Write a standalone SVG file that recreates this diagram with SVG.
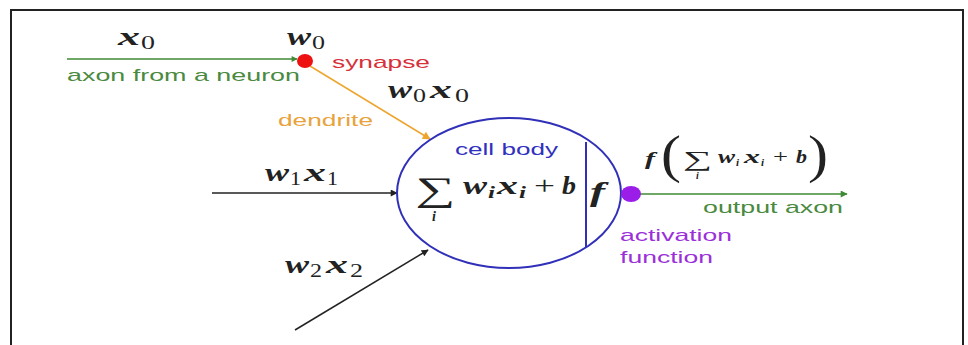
<svg xmlns="http://www.w3.org/2000/svg" width="968" height="345" viewBox="0 0 968 345">
<defs>
<marker id="ag" viewBox="0 0 10 10" refX="9" refY="5" markerWidth="9" markerHeight="6" orient="auto" markerUnits="userSpaceOnUse"><path d="M0,0 L10,5 L0,10 z" fill="#3f8a35"/></marker>
<marker id="ao" viewBox="0 0 10 10" refX="9" refY="5" markerWidth="11" markerHeight="8" orient="auto" markerUnits="userSpaceOnUse"><path d="M0,0 L10,5 L0,10 z" fill="#eea52e"/></marker>
<marker id="ak" viewBox="0 0 10 10" refX="9" refY="5" markerWidth="11" markerHeight="7" orient="auto" markerUnits="userSpaceOnUse"><path d="M0,0 L10,5 L0,10 z" fill="#222"/></marker>
<marker id="ag2" viewBox="0 0 10 10" refX="9" refY="5" markerWidth="13" markerHeight="7" orient="auto" markerUnits="userSpaceOnUse"><path d="M0,0 L10,5 L0,10 z" fill="#3f8a35"/></marker>
</defs>
<style>
.m{font-family:"Liberation Serif","DejaVu Serif",serif;font-style:italic;font-weight:bold;fill:#222}
.s{font-family:"Liberation Serif","DejaVu Serif",serif;fill:#222}
.t{font-family:"Liberation Sans",Arial,sans-serif;font-size:17px}
</style>
<rect x="0" y="0" width="968" height="345" fill="#fff"/>
<path d="M11,350 L11,10 L963,10 L963,350" fill="none" stroke="#222" stroke-width="2"/>
<g id="connectors">
<line x1="67" y1="59" x2="297" y2="59" stroke="#3f8a35" stroke-width="1.5" marker-end="url(#ag)"/>
<line x1="310" y1="66" x2="430" y2="139" stroke="#eea52e" stroke-width="1.5" marker-end="url(#ao)"/>
<line x1="212" y1="193" x2="397" y2="193" stroke="#222" stroke-width="1.5" marker-end="url(#ak)"/>
<line x1="295" y1="330" x2="428" y2="250" stroke="#222" stroke-width="1.5" marker-end="url(#ak)"/>
<line x1="640" y1="194" x2="847" y2="194" stroke="#3f8a35" stroke-width="1.5" marker-end="url(#ag2)"/>
</g>
<g id="input0">
<text class="m" x="118" y="45" font-size="26" textLength="22" lengthAdjust="spacingAndGlyphs">x</text>
<text class="s" x="141" y="49" font-size="18" textLength="14" lengthAdjust="spacingAndGlyphs">0</text>
<text class="t" x="67" y="81" fill="#4a8a40" textLength="233" lengthAdjust="spacingAndGlyphs">axon from a neuron</text>
</g>
<g id="synapse">
<ellipse cx="305" cy="61" rx="8" ry="7" fill="#ee1111"/>
<text class="m" x="287" y="45" font-size="26" textLength="24" lengthAdjust="spacingAndGlyphs">w</text>
<text class="s" x="312" y="49" font-size="18" textLength="13" lengthAdjust="spacingAndGlyphs">0</text>
<text class="t" x="332" y="68" fill="#d8303a" textLength="98" lengthAdjust="spacingAndGlyphs">synapse</text>
<text class="m" x="388" y="98" font-size="26" textLength="24" lengthAdjust="spacingAndGlyphs">w</text>
<text class="s" x="413" y="102" font-size="18" textLength="13" lengthAdjust="spacingAndGlyphs">0</text>
<text class="m" x="430" y="98" font-size="26" textLength="22" lengthAdjust="spacingAndGlyphs">x</text>
<text class="s" x="455" y="102" font-size="18" textLength="14" lengthAdjust="spacingAndGlyphs">0</text>
<text class="t" x="278" y="126" fill="#e8a33c" textLength="95" lengthAdjust="spacingAndGlyphs">dendrite</text>
</g>
<g id="input1">
<text class="m" x="265" y="181" font-size="26" textLength="24" lengthAdjust="spacingAndGlyphs">w</text>
<text class="s" x="290" y="185" font-size="18" textLength="11" lengthAdjust="spacingAndGlyphs">1</text>
<text class="m" x="304" y="181" font-size="26" textLength="22" lengthAdjust="spacingAndGlyphs">x</text>
<text class="s" x="327" y="185" font-size="18" textLength="11" lengthAdjust="spacingAndGlyphs">1</text>
</g>
<g id="input2">
<text class="m" x="285" y="273" font-size="26" textLength="24" lengthAdjust="spacingAndGlyphs">w</text>
<text class="s" x="310" y="277" font-size="18" textLength="12" lengthAdjust="spacingAndGlyphs">2</text>
<text class="m" x="326" y="273" font-size="26" textLength="22" lengthAdjust="spacingAndGlyphs">x</text>
<text class="s" x="350" y="277" font-size="18" textLength="13" lengthAdjust="spacingAndGlyphs">2</text>
</g>
<g id="cell-body">
<ellipse cx="509" cy="193" rx="112" ry="75" fill="none" stroke="#3030b8" stroke-width="2"/>
<line x1="586" y1="142" x2="586" y2="247" stroke="#3030b8" stroke-width="2"/>
<text class="t" x="455" y="155" fill="#3030c0" textLength="103" lengthAdjust="spacingAndGlyphs">cell body</text>
<text class="s" x="415" y="201" font-size="34" textLength="40" lengthAdjust="spacingAndGlyphs">∑</text>
<text class="m" x="432" y="221" font-size="14">i</text>
<text class="m" x="463" y="194" font-size="26" textLength="24" lengthAdjust="spacingAndGlyphs">w</text>
<text class="m" x="488" y="198" font-size="16" textLength="7" lengthAdjust="spacingAndGlyphs">i</text>
<text class="m" x="497" y="194" font-size="26" textLength="21" lengthAdjust="spacingAndGlyphs">x</text>
<text class="m" x="519" y="198" font-size="16" textLength="7" lengthAdjust="spacingAndGlyphs">i</text>
<text class="s" x="534" y="194" font-size="26" textLength="21" lengthAdjust="spacingAndGlyphs">+</text>
<text class="m" x="562" y="194" font-size="26" textLength="14" lengthAdjust="spacingAndGlyphs">b</text>
<text class="m" x="590" y="201" font-size="28" textLength="15" lengthAdjust="spacingAndGlyphs">f</text>
</g>
<g id="activation">
<ellipse cx="631" cy="194" rx="10" ry="8" fill="#9a1ee8"/>
<text class="t" x="620" y="241" fill="#9b30d9" textLength="112" lengthAdjust="spacingAndGlyphs">activation</text>
<text class="t" x="620" y="263" fill="#9b30d9" textLength="93" lengthAdjust="spacingAndGlyphs">function</text>
</g>
<g id="output">
<text class="m" x="645" y="165" font-size="18" textLength="10" lengthAdjust="spacingAndGlyphs">f</text>
<text class="s" x="661" y="172" font-size="52" textLength="20" lengthAdjust="spacingAndGlyphs">(</text>
<text class="s" x="683" y="166" font-size="21" textLength="29" lengthAdjust="spacingAndGlyphs">∑</text>
<text class="m" x="696" y="179" font-size="10">i</text>
<text class="m" x="718" y="163" font-size="18" textLength="17" lengthAdjust="spacingAndGlyphs">w</text>
<text class="m" x="736" y="166" font-size="11">i</text>
<text class="m" x="744" y="163" font-size="18" textLength="16" lengthAdjust="spacingAndGlyphs">x</text>
<text class="m" x="761" y="166" font-size="11">i</text>
<text class="s" x="773" y="163" font-size="18" textLength="15" lengthAdjust="spacingAndGlyphs">+</text>
<text class="m" x="796" y="163" font-size="18" textLength="11" lengthAdjust="spacingAndGlyphs">b</text>
<text class="s" x="808" y="172" font-size="52" textLength="20" lengthAdjust="spacingAndGlyphs">)</text>
<text class="t" x="703" y="213" fill="#4a8a40" textLength="140" lengthAdjust="spacingAndGlyphs">output axon</text>
</g>
</svg>
